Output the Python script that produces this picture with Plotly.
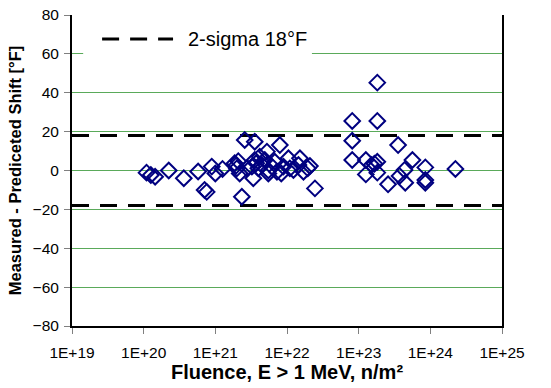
import plotly.graph_objects as go

# Data
fluence = [
    1.096e20, 1.259e20, 1.445e20, 2.239e20, 3.631e20, 5.754e20, 7.079e20, 7.586e20,
    8.913e20, 1.000e21, 1.259e21, 1.862e21, 1.950e21, 1.995e21, 2.089e21, 2.188e21,
    2.344e21, 2.570e21, 2.754e21, 3.236e21, 3.388e21, 3.548e21, 3.548e21, 3.715e21,
    3.981e21, 4.169e21, 4.467e21, 4.898e21, 5.248e21, 5.495e21, 5.495e21, 6.166e21,
    6.761e21, 7.244e21, 7.943e21, 8.318e21, 8.913e21, 1.047e22, 1.096e22, 1.230e22,
    1.445e22, 1.514e22, 1.698e22, 1.950e22, 2.089e22, 2.455e22,
    8.128e22, 8.128e22, 8.128e22, 1.259e23, 1.259e23, 1.514e23, 1.660e23, 1.820e23,
    1.820e23, 1.820e23, 1.820e23, 2.570e23, 3.548e23, 3.715e23, 4.365e23, 4.467e23,
    5.623e23, 8.511e23, 8.511e23, 8.511e23, 2.239e24,
]
shift = [
    -1.1, -2.3, -3.2, 0.0, -4.0, -0.5, -10.0, -11.0,
    2.0, -1.5, 0.8, 3.7, 2.5, 1.1, 4.8, -1.5,
    -13.5, 15.7, 1.1, 2.0, -4.0, 14.8, 5.4, 3.7,
    1.1, 7.1, 2.8, 5.4, 9.7, -1.5, 0.0, 2.0,
    4.5, -0.6, 13.1, -1.5, 2.0, 6.3, 1.1, 0.3,
    2.8, 6.3, -0.6, 1.1, 2.3, -9.2,
    25.5, 15.3, 5.4, 5.4, -2.0, 2.8, 3.5, 45.2,
    25.5, 4.5, -1.1, -7.1, 13.1, -2.8, 0.3, -6.3,
    5.4, 1.6, -4.9, -6.3, 0.8,
]
sigma_limit = 18
sigma_label = "2-sigma 18°F"
x_tick_vals = [1e19, 1e20, 1e21, 1e22, 1e23, 1e24, 1e25]
x_tick_text = ["1E+19", "1E+20", "1E+21", "1E+22", "1E+23", "1E+24", "1E+25"]
y_tick_vals = [-80, -60, -40, -20, 0, 20, 40, 60, 80]

FONT = "Liberation Sans, Arial, sans-serif"
DASH = "17px,11px"

fig = go.Figure()
for sgn in (1, -1):
    fig.add_trace(go.Scatter(
        x=[x_tick_vals[0], x_tick_vals[-1]], y=[sgn * sigma_limit] * 2,
        mode="lines", line=dict(color="black", width=3, dash=DASH),
        name=sigma_label, showlegend=False, hoverinfo="skip"))

fig.add_trace(go.Scatter(
    x=fluence, y=shift, mode="markers",
    marker=dict(symbol="diamond-open", size=12, color="#000080",
                line=dict(color="#000080", width=2)),
    showlegend=False))

# Manual legend box (white background over the 60 gridline)
fig.add_shape(type="rect", xref="paper", yref="paper",
              x0=0.026, x1=0.558, y0=0.862, y1=0.968,
              fillcolor="white", line=dict(width=0), layer="above")
fig.add_shape(type="line", xref="paper", yref="paper",
              x0=0.070, x1=0.235, y0=0.923, y1=0.923,
              line=dict(color="black", width=3, dash=DASH), layer="above")
fig.add_annotation(xref="paper", yref="paper", x=0.265, y=0.923,
                   text=sigma_label, showarrow=False, xanchor="left",
                   yanchor="middle", font=dict(family=FONT, size=20, color="black"))

fig.update_layout(
    width=551, height=388,
    margin=dict(l=72, r=49, t=15, b=62),
    plot_bgcolor="white", paper_bgcolor="white",
    font=dict(family=FONT, color="black"),
    xaxis=dict(
        type="log", range=[19, 25], automargin=False,
        tickvals=x_tick_vals, ticktext=x_tick_text,
        showgrid=False, zeroline=False,
        showline=True, linecolor="black", linewidth=2,
        ticks="outside", ticklen=6, tickcolor="#808080", tickwidth=1,
        ticklabelstandoff=5, ticklabeloverflow="allow",
        tickfont=dict(size=15.5, family=FONT),
        title=dict(text="<b>Fluence, E > 1 MeV, n/m²</b>",
                   font=dict(size=20, family=FONT), standoff=3),
    ),
    yaxis=dict(
        range=[-80, 80], tickvals=y_tick_vals, automargin=False,
        showgrid=True, gridcolor="rgb(90,170,90)", gridwidth=1,
        zeroline=False,
        showline=True, linecolor="black", linewidth=2, mirror=True,
        ticks="outside", ticklen=6, tickcolor="#808080", tickwidth=1,
        ticklabelstandoff=2, ticklabeloverflow="allow",
        tickfont=dict(size=15.5, family=FONT),
        title=dict(text="<b>Measured - Prediceted Shift [°F]</b>",
                   font=dict(size=16.5, family=FONT), standoff=7),
    ),
)

fig.write_html("out.html",
               config={"displayModeBar": False, "staticPlot": True},
               post_script="document.body.style.margin='0';"
                           "document.body.style.overflow='hidden';")
